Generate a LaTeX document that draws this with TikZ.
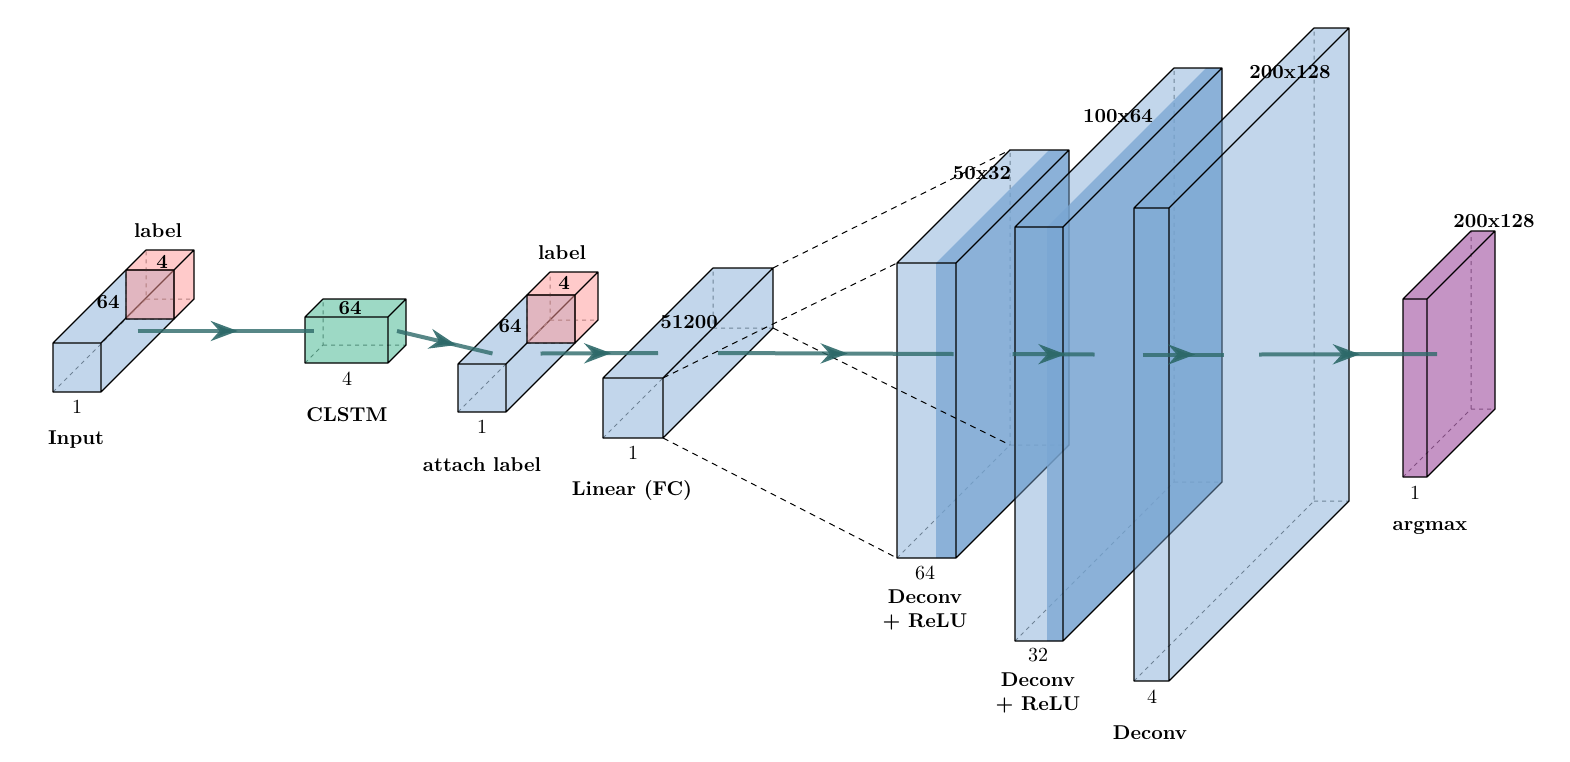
\documentclass[tikz,border=0pt]{standalone}
\usepackage{tikz}
\usetikzlibrary{arrows.meta,decorations.markings}

\definecolor{convblue}{RGB}{120,165,210}
\definecolor{lstmgreen}{RGB}{60,180,140}
\definecolor{labelpink}{RGB}{255,150,150}
\definecolor{outpurple}{RGB}{150,60,150}
\definecolor{flowteal}{RGB}{45,105,105}

\tikzset{
  edge/.style={black, line width=0.6pt, line join=round},
  hidden/.style={black!60, line width=0.5pt, dash pattern=on 2pt off 2pt},
  project/.style={black, line width=0.5pt, dash pattern=on 3pt off 2.5pt},
  flow/.style={draw=flowteal, draw opacity=0.8, line width=2pt,
    postaction={decorate},
    decoration={markings, mark=at position 0.5 with
      {\pgftransformxshift{6pt}\arrow[flowteal, opacity=0.9]{Stealth[length=13.5pt,width=10pt]}}}},
  dimlabel/.style={font=\bfseries},
  sizelabel/.style={},
  caption/.style={font=\bfseries, align=center},
}

% #1 name, #2 x, #3 y (front top-left), #4 width, #5 height,
% #6 depth, #7 band width, #8 colour, #9 opacity
\newcommand{\layerbox}[9]{%
  \coordinate (#1-fnw) at (#2,#3);
  \coordinate (#1-fne) at ({#2+#4},#3);
  \coordinate (#1-fse) at ({#2+#4},{#3+#5});
  \coordinate (#1-fsw) at (#2,{#3+#5});
  \coordinate (#1-bnw) at ({#2+#6},{#3-#6});
  \coordinate (#1-bne) at ({#2+#4+#6},{#3-#6});
  \coordinate (#1-bse) at ({#2+#4+#6},{#3+#5-#6});
  \coordinate (#1-bsw) at ({#2+#6},{#3+#5-#6});
  \coordinate (#1-west) at ({#2+#6/2},{#3+#5/2-#6/2});
  \coordinate (#1-east) at ({#2+#4+#6/2},{#3+#5/2-#6/2});
  \draw[hidden] (#1-fsw) -- (#1-bsw) -- (#1-bnw) (#1-bsw) -- (#1-bse);
  \fill[#8, fill opacity=#9]
    (#1-fnw) -- (#1-fne) -- (#1-fse) -- (#1-fsw) -- cycle
    (#1-fnw) -- (#1-bnw) -- (#1-bne) -- (#1-fne) -- cycle
    (#1-fne) -- (#1-bne) -- (#1-bse) -- (#1-fse) -- cycle;
  \ifnum#7>0
    \fill[#8, fill opacity=0.75]
      ({#2+#4-#7},#3) -- (#1-fne) -- (#1-fse) -- ({#2+#4-#7},{#3+#5}) -- cycle
      ({#2+#4-#7},#3) -- ({#2+#4-#7+#6},{#3-#6}) -- (#1-bne) -- (#1-fne) -- cycle
      (#1-fne) -- (#1-bne) -- (#1-bse) -- (#1-fse) -- cycle;
  \fi
  \draw[edge] (#1-fnw) -- (#1-fne) -- (#1-fse) -- (#1-fsw) -- cycle
    (#1-fnw) -- (#1-bnw) -- (#1-bne) -- (#1-bse) -- (#1-fse)
    (#1-fne) -- (#1-bne);
}

\begin{document}
\begin{tikzpicture}[x=0.5pt, y=-0.5pt]
\useasboundingbox (0,0) rectangle (1570,761);
%% input;
\layerbox{inp}{53}{343}{48}{49}{73}{0}{convblue}{0.45}
\layerbox{inplab}{126}{270}{48}{49}{20}{0}{labelpink}{0.5}
\node[dimlabel] (inp-z) at (108,302) {64};
\node[sizelabel] (inp-x) at (77,407) {1};
\node[dimlabel] (inplab-z) at (162,262) {4};
\node[caption] (inplab-cap) at (158,231) {label};
\node[caption] (inp-cap) at (76,440) {Input};
%% clstm;
\layerbox{lstm}{305}{317}{83}{46}{18}{0}{lstmgreen}{0.5}
\node[dimlabel] (lstm-z) at (350,308) {64};
\node[sizelabel] (lstm-x) at (347,379) {4};
\node[caption] (lstm-cap) at (347,415) {CLSTM};
%% attach;
\layerbox{att}{458}{364}{48}{48}{69}{0}{convblue}{0.45}
\layerbox{attlab}{527}{295}{48}{48}{23}{0}{labelpink}{0.5}
\node[dimlabel] (att-z) at (510,326) {64};
\node[sizelabel] (att-x) at (482,427) {1};
\node[dimlabel] (attlab-z) at (564,283) {4};
\node[caption] (attlab-cap) at (562,253) {label};
\node[caption] (att-cap) at (482,465) {attach label};
%% linear;
\layerbox{fc}{603}{378}{60}{60}{110}{0}{convblue}{0.45}
\node[dimlabel] (fc-z) at (689,322) {51200};
\node[sizelabel] (fc-x) at (633,453) {1};
\node[caption] (fc-cap) at (632,490) {Linear (FC)};
%% deconv;
\layerbox{dc1}{897}{263}{59}{295}{113}{20}{convblue}{0.45}
\node[dimlabel] (dc1-z) at (982,173) {50x32};
\node[sizelabel] (dc1-x) at (925,573) {64};
\node[caption] (dc1-cap) at (925,610) {Deconv\\+ ReLU};
%% deconv;
\layerbox{dc2}{1015}{227}{48}{414}{159}{16}{convblue}{0.45}
\node[dimlabel] (dc2-z) at (1118,116) {100x64};
\node[sizelabel] (dc2-x) at (1038,655) {32};
\node[caption] (dc2-cap) at (1038,693) {Deconv\\+ ReLU};
%% deconv;
\layerbox{dc3}{1134}{208}{35}{473}{180}{0}{convblue}{0.45}
\node[dimlabel] (dc3-z) at (1290,72) {200x128};
\node[sizelabel] (dc3-x) at (1152,697) {4};
\node[caption] (dc3-cap) at (1150,733) {Deconv};
%% argmax;
\layerbox{out}{1403}{299}{24}{178}{68}{0}{outpurple}{0.55}
\node[dimlabel] (out-z) at (1494,221) {200x128};
\node[sizelabel] (out-x) at (1415,493) {1};
\node[caption] (out-cap) at (1430,528) {argmax};
%% projection;
\draw[project] (fc-bne) -- (dc1-bnw);
\draw[project] (fc-bse) -- (dc1-bsw);
\draw[project] (fc-fne) -- (dc1-fnw);
\draw[project] (fc-fse) -- (dc1-fsw);
%% connection;
\draw[flow] (inp-east) -- (lstm-west);
\draw[flow] (lstm-east) -- (att-west);
\draw[flow] (att-east) -- (fc-west);
\draw[flow] (fc-east) -- (dc1-west);
\draw[flow] (dc1-east) -- (dc2-west);
\draw[flow] (dc2-east) -- (dc3-west);
\draw[flow] (dc3-east) -- (out-west);
\end{tikzpicture}
\end{document}
